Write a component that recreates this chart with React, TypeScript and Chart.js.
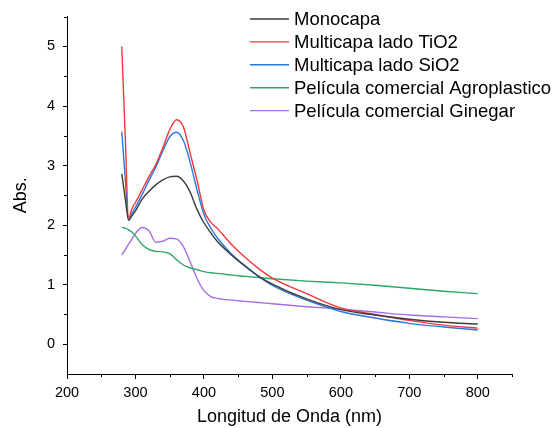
import React, { useEffect, useRef } from "react";
import { Chart, registerables } from "chart.js";

Chart.register(...registerables);

// Wavelength grid (nm) shared by every spectrum
const wavelengths = [280, 285, 290, 295, 300, 310, 320, 330, 340, 350, 360, 370, 380, 390, 400, 410, 420, 440, 460, 480, 500, 550, 600, 650, 700, 750, 800];

// Absorbance spectra
const monocapa = [2.86, 2.45, 2.08, 2.16, 2.24, 2.44, 2.57, 2.68, 2.76, 2.81, 2.82, 2.74, 2.55, 2.26, 2.04, 1.87, 1.72, 1.50, 1.31, 1.14, 1.01, 0.76, 0.58, 0.49, 0.42, 0.37, 0.34];
const multicapaTiO2 = [5.0, 3.5, 2.12, 2.28, 2.38, 2.6, 2.82, 3.02, 3.3, 3.6, 3.77, 3.65, 3.2, 2.75, 2.25, 2.05, 1.94, 1.68, 1.46, 1.27, 1.11, 0.85, 0.61, 0.5, 0.4, 0.32, 0.27];
const multicapaSiO2 = [3.57, 2.8, 2.08, 2.2, 2.3, 2.52, 2.76, 2.98, 3.25, 3.48, 3.56, 3.42, 3.05, 2.59, 2.18, 1.95, 1.78, 1.52, 1.32, 1.14, 0.99, 0.74, 0.55, 0.44, 0.35, 0.29, 0.24];
const agroplastico = [1.96, 1.95, 1.92, 1.88, 1.82, 1.67, 1.59, 1.56, 1.55, 1.52, 1.42, 1.33, 1.28, 1.25, 1.22, 1.2, 1.19, 1.16, 1.14, 1.12, 1.1, 1.06, 1.03, 0.99, 0.94, 0.89, 0.85];
const ginegar = [1.5, 1.59, 1.68, 1.77, 1.86, 1.96, 1.9, 1.71, 1.73, 1.78, 1.77, 1.64, 1.38, 1.1, 0.9, 0.8, 0.77, 0.74, 0.72, 0.7, 0.68, 0.63, 0.59, 0.54, 0.49, 0.46, 0.43];

const seriesNames = ["Monocapa", "Multicapa lado TiO2", "Multicapa lado SiO2", "Película comercial Agroplastico", "Película comercial Ginegar"];
const seriesValues = [monocapa, multicapaTiO2, multicapaSiO2, agroplastico, ginegar];
const seriesColors = ["#3c3c3c", "#f03a3a", "#2a78e4", "#2ea56a", "#a66ee6"];

// Axis ticks
const xMajorTicks = [200, 300, 400, 500, 600, 700, 800];
const xMinorTicks = [250, 350, 450, 550, 650, 750, 850];
const yMajorTicks = [0, 1, 2, 3, 4, 5];
const yMinorTicks = [-0.5, 0.5, 1.5, 2.5, 3.5, 4.5, 5.5];

const FONT = "Arial, 'Liberation Sans', Helvetica, sans-serif";

const minorTicksPlugin = {
  id: "minorTicks",
  afterDraw(chart: any) {
    const { ctx, scales } = chart;
    const xs = scales.x;
    const ys = scales.y;
    ctx.save();
    ctx.strokeStyle = "#000";
    ctx.lineWidth = 1;
    ctx.beginPath();
    xMinorTicks.forEach((v) => {
      const px = Math.round(xs.getPixelForValue(v)) + 0.5;
      ctx.moveTo(px, ys.bottom);
      ctx.lineTo(px, ys.bottom + 3);
    });
    yMinorTicks.forEach((v) => {
      if (v <= ys.min || v > ys.max) return;
      const py = Math.round(ys.getPixelForValue(v)) + 0.5;
      ctx.moveTo(xs.left, py);
      ctx.lineTo(xs.left - 3, py);
    });
    ctx.stroke();
    ctx.restore();
  },
};

const legendPlugin = {
  id: "insideLegend",
  afterDraw(chart: any) {
    const { ctx } = chart;
    const x0 = 250;
    const x1 = 289;
    const y0 = 19;
    const step = 22.9;
    ctx.save();
    ctx.font = `18.5px ${FONT}`;
    ctx.textBaseline = "middle";
    ctx.textAlign = "left";
    seriesNames.forEach((name, i) => {
      const y = y0 + i * step;
      ctx.strokeStyle = seriesColors[i];
      ctx.lineWidth = 1.4;
      ctx.beginPath();
      ctx.moveTo(x0, y);
      ctx.lineTo(x1, y);
      ctx.stroke();
      ctx.fillStyle = "#000";
      ctx.fillText(name, x1 + 5, y + 1);
    });
    ctx.restore();
  },
};

export default function App() {
  const canvasRef = useRef<HTMLCanvasElement | null>(null);

  useEffect(() => {
    const canvas = canvasRef.current;
    if (!canvas) return;
    const chart = new Chart(canvas, {
      type: "line",
      data: {
        datasets: seriesNames.map((name, i) => ({
          label: name,
          data: wavelengths.map((w, j) => ({ x: w, y: seriesValues[i][j] })),
          borderColor: seriesColors[i],
          backgroundColor: seriesColors[i],
          borderWidth: 1.4,
          pointRadius: 0,
          cubicInterpolationMode: "monotone" as const,
          fill: false,
        })),
      },
      options: {
        responsive: false,
        animation: false,
        layout: { padding: { top: 16, right: 43, left: 0, bottom: 0 } },
        plugins: {
          legend: { display: false },
          tooltip: { enabled: false },
        },
        scales: {
          x: {
            type: "linear",
            min: 200,
            max: 850,
            afterFit: (s: any) => {
              s.height = 54;
            },
            afterBuildTicks: (s: any) => {
              s.ticks = xMajorTicks.map((v) => ({ value: v }));
            },
            grid: { drawOnChartArea: false, drawTicks: true, tickLength: 5, color: "#000" },
            border: { display: true, color: "#000", width: 1 },
            ticks: {
              color: "#000",
              font: { family: FONT, size: 14.5 },
              padding: 5,
              maxRotation: 0,
              callback: (v: any) => String(v),
            },
            title: {
              display: true,
              text: "Longitud de Onda (nm)",
              color: "#000",
              font: { family: FONT, size: 18, lineHeight: 1.2 },
              padding: { top: 0, bottom: 0 },
            },
          },
          y: {
            type: "linear",
            min: -0.5,
            max: 5.5,
            afterFit: (s: any) => {
              s.width = 67;
            },
            afterBuildTicks: (s: any) => {
              s.ticks = yMajorTicks.map((v) => ({ value: v }));
            },
            grid: { drawOnChartArea: false, drawTicks: true, tickLength: 4, color: "#000" },
            border: { display: true, color: "#000", width: 1 },
            ticks: {
              color: "#000",
              font: { family: FONT, size: 14.5 },
              padding: 8,
              callback: (v: any) => String(v),
            },
            title: {
              display: true,
              text: "Abs.",
              color: "#000",
              font: { family: FONT, size: 18, lineHeight: 1.2 },
              padding: { top: 10, bottom: 0 },
            },
          },
        },
      },
      plugins: [minorTicksPlugin, legendPlugin],
    });
    return () => chart.destroy();
  }, []);

  return (
    <div style={{ position: "fixed", left: 0, top: 0, width: 555, height: 428, background: "#fff" }}>
      <canvas ref={canvasRef} width={555} height={428} style={{ width: 555, height: 428 }} />
    </div>
  );
}
